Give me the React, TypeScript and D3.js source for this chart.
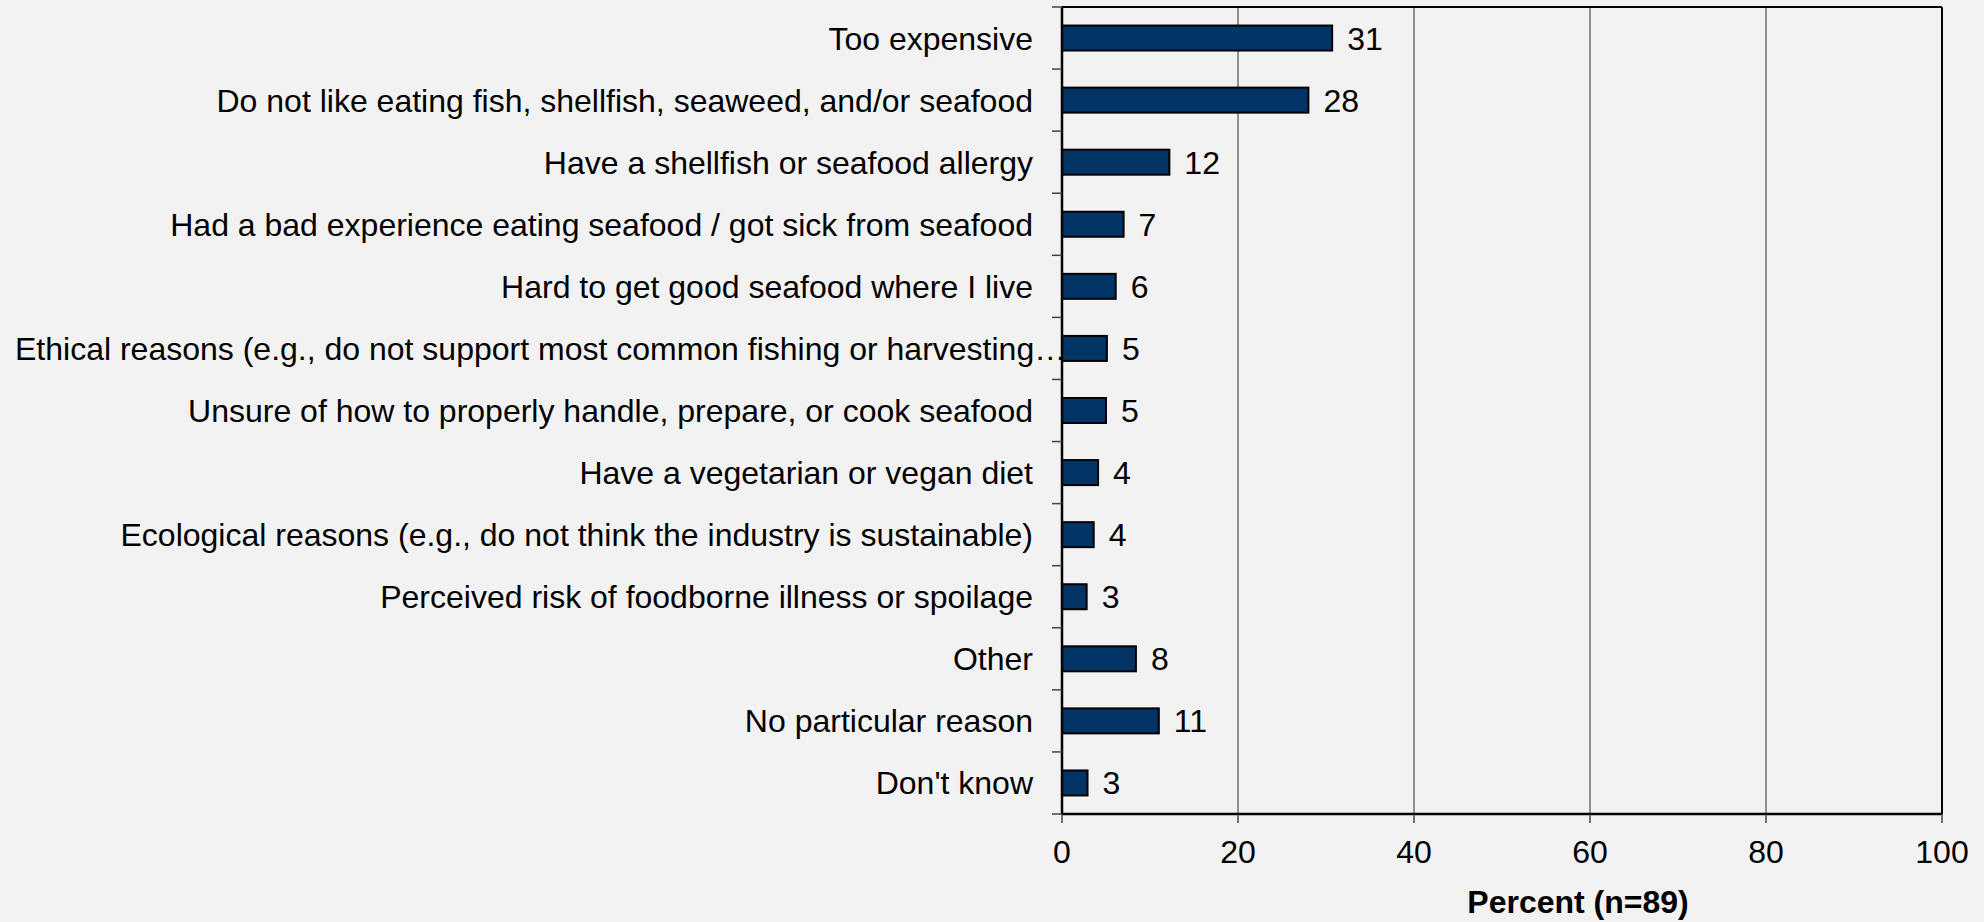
import React from "react";
import * as d3 from "d3";

const categories = [
  "Too expensive",
  "Do not like eating fish, shellfish, seaweed, and/or seafood",
  "Have a shellfish or seafood allergy",
  "Had a bad experience eating seafood / got sick from seafood",
  "Hard to get good seafood where I live",
  "Ethical reasons (e.g., do not support most common fishing or harvesting\u2026",
  "Unsure of how to properly handle, prepare, or cook seafood",
  "Have a vegetarian or vegan diet",
  "Ecological reasons (e.g., do not think the industry is sustainable)",
  "Perceived risk of foodborne illness or spoilage",
  "Other",
  "No particular reason",
  "Don't know",
];
const values = [30.7, 28.0, 12.2, 7.0, 6.1, 5.1, 5.0, 4.1, 3.6, 2.8, 8.4, 11.0, 2.9];
const valueLabels = ["31", "28", "12", "7", "6", "5", "5", "4", "4", "3", "8", "11", "3"];
const xTicks = [0, 20, 40, 60, 80, 100];
const xTitle = "Percent (n=89)";

const W = 1984;
const H = 922;
const L = 1062;
const R = 1942;
const T = 7;
const B = 814;
const FONT = "'Liberation Sans', Arial, sans-serif";

export default function App() {
  const x = d3.scaleLinear().domain([0, 100]).range([L, R]);
  const y = d3.scaleBand<string>().domain(categories).range([T, B]).padding(0);
  const bw = y.bandwidth();
  const barH = 25;
  const boundaries = d3.range(categories.length + 1).map((i) => T + i * bw);

  return (
    <div style={{ position: "fixed", left: 0, top: 0, width: W, height: H, background: "#f2f2f2" }}>
      <svg width={W} height={H} style={{ display: "block" }} fontFamily={FONT}>
        <rect x={0} y={0} width={W} height={H} fill="#f2f2f2" />
        {/* gridlines */}
        {xTicks.slice(1, -1).map((t) => (
          <line key={"g" + t} x1={x(t)} x2={x(t)} y1={T} y2={B} stroke="#2e2e2e" strokeWidth={1} />
        ))}
        {/* bars */}
        {categories.map((c, i) => {
          const cy = (y(c) as number) + bw / 2;
          return (
            <g key={c}>
              <rect
                x={x(0)}
                y={cy - barH / 2}
                width={x(values[i]) - x(0)}
                height={barH}
                fill="#023466"
                stroke="#000"
                strokeWidth={2}
              />
              <text x={x(values[i]) + 15} y={cy} dy="0.36em" fontSize={32} fill="#000">
                {valueLabels[i]}
              </text>
              {i === 5 ? (
                <text x={15} y={cy} dy="0.36em" fontSize={32} fill="#000">
                  {c}
                </text>
              ) : (
                <text x={L - 29} y={cy} dy="0.36em" fontSize={32} textAnchor="end" fill="#000">
                  {c}
                </text>
              )}
            </g>
          );
        })}
        {/* frame */}
        <line x1={L} x2={R} y1={T} y2={T} stroke="#000" strokeWidth={2} />
        <line x1={R} x2={R} y1={T} y2={B} stroke="#000" strokeWidth={2} />
        <line x1={L} x2={L} y1={T} y2={B + 1} stroke="#000" strokeWidth={2.5} />
        <line x1={L} x2={R} y1={B} y2={B} stroke="#000" strokeWidth={2.5} />
        {/* y ticks */}
        {boundaries.map((b, i) => (
          <line key={"yt" + i} x1={L - 10} x2={L} y1={b} y2={b} stroke="#444" strokeWidth={1.5} />
        ))}
        {/* x ticks */}
        {xTicks.map((t) => (
          <g key={"xt" + t}>
            <line x1={x(t)} x2={x(t)} y1={B} y2={B + 9} stroke="#444" strokeWidth={1.5} />
            <text x={x(t)} y={863} fontSize={32} textAnchor="middle" fill="#000">
              {t}
            </text>
          </g>
        ))}
        <text x={1578} y={913} fontSize={32} fontWeight="bold" textAnchor="middle" fill="#000">
          {xTitle}
        </text>
      </svg>
    </div>
  );
}
